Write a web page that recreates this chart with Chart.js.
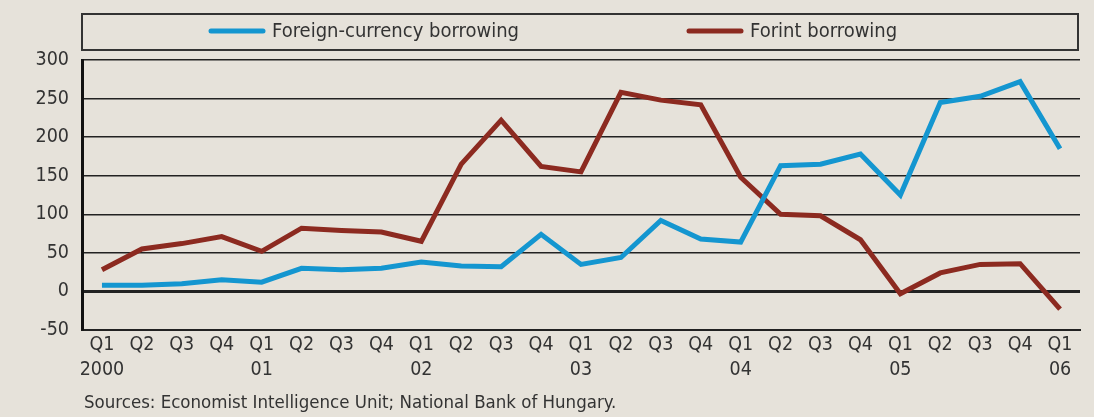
<!DOCTYPE html>
<html lang="en">
<head>
  <meta charset="UTF-8">
  <title>Foreign-currency vs forint borrowing</title>
  <style>
    body {
      margin: 0;
      background: #e6e2da;
    }
    .wrap {
      width: 1094px;
      height: 417px;
    }
  </style>
</head>
<body>
<div class="wrap">
  <canvas id="chart" width="1094" height="417"></canvas>
</div>

<script src="https://cdnjs.cloudflare.com/ajax/libs/Chart.js/4.4.0/chart.umd.min.js"></script>
<script>
  // quarters Q1 2000 .. Q1 2006
  const quarters = [
    ['Q1', '2000'], 'Q2', 'Q3', 'Q4',
    ['Q1', '01'], 'Q2', 'Q3', 'Q4',
    ['Q1', '02'], 'Q2', 'Q3', 'Q4',
    ['Q1', '03'], 'Q2', 'Q3', 'Q4',
    ['Q1', '04'], 'Q2', 'Q3', 'Q4',
    ['Q1', '05'], 'Q2', 'Q3', 'Q4',
    ['Q1', '06']
  ];
  const foreignCurrency = [8, 8, 10, 15, 12, 30, 28, 30, 38, 33, 32, 74, 35, 44, 92, 68, 64, 163, 165, 178, 125, 245, 253, 272, 185];
  const forint = [28, 55, 62, 71, 52, 82, 79, 77, 65, 165, 222, 162, 155, 258, 248, 242, 148, 100, 98, 67, -3, 24, 35, 36, -23];
  const yMin = -50, yMax = 300, yStep = 50;
  const sourceNote = 'Sources: Economist Intelligence Unit; National Bank of Hungary.';

  const FONT = '"DejaVu Sans Condensed", "Liberation Sans Narrow", "DejaVu Sans", sans-serif';
  const TEXT = '#333';

  // legend in a box above the plot + the source line below
  const frame = {
    id: 'frame',
    afterDraw(chart) {
      const ctx = chart.ctx;
      const area = chart.chartArea;
      ctx.save();
      ctx.strokeStyle = '#333';
      ctx.lineWidth = 2;
      ctx.strokeRect(area.left, 14, area.right - area.left - 2, 36);

      const starts = [211, 689];
      ctx.font = '20px ' + FONT;
      ctx.textBaseline = 'middle';
      chart.data.datasets.forEach((ds, i) => {
        const x = starts[i];
        ctx.strokeStyle = ds.borderColor;
        ctx.lineWidth = 5;
        ctx.lineCap = 'round';
        ctx.beginPath();
        ctx.moveTo(x, 31);
        ctx.lineTo(x + 52, 31);
        ctx.stroke();
        ctx.fillStyle = TEXT;
        ctx.fillText(ds.label, x + 61, 32);
      });

      ctx.font = '18.5px ' + FONT;
      ctx.fillStyle = TEXT;
      ctx.fillText(sourceNote, area.left + 2, 403);
      ctx.restore();
    }
  };

  new Chart(document.getElementById('chart'), {
    type: 'line',
    data: {
      labels: quarters,
      datasets: [
        {
          label: 'Foreign-currency borrowing',
          data: foreignCurrency,
          borderColor: '#1496d0',
          borderWidth: 5,
          pointRadius: 0,
          tension: 0
        },
        {
          label: 'Forint borrowing',
          data: forint,
          borderColor: '#8c2a20',
          borderWidth: 5,
          pointRadius: 0,
          tension: 0
        }
      ]
    },
    options: {
      responsive: false,
      animation: false,
      layout: { padding: { top: 60, right: 14, bottom: 37, left: 0 } },
      plugins: {
        legend: { display: false },
        tooltip: { enabled: false }
      },
      scales: {
        x: {
          offset: true,
          grid: { display: false, drawTicks: false },
          border: { display: true, color: '#222', width: 2 },
          ticks: {
            color: TEXT,
            font: { family: FONT, size: 19.5, lineHeight: 1.28 },
            padding: 2,
            maxRotation: 0,
            autoSkip: false
          },
          afterFit(scale) { scale.height = 50; }
        },
        y: {
          min: yMin,
          max: yMax,
          grid: {
            color: '#222',
            lineWidth: c => c.tick && c.tick.value === 0 ? 3 : 1.5,
            drawTicks: false
          },
          border: { display: true, color: '#111', width: 3 },
          ticks: {
            stepSize: yStep,
            color: TEXT,
            font: { family: FONT, size: 19.5 },
            padding: 13
          },
          afterFit(scale) { scale.width = 82; }
        }
      }
    },
    plugins: [frame]
  });
</script>
</body>
</html>
